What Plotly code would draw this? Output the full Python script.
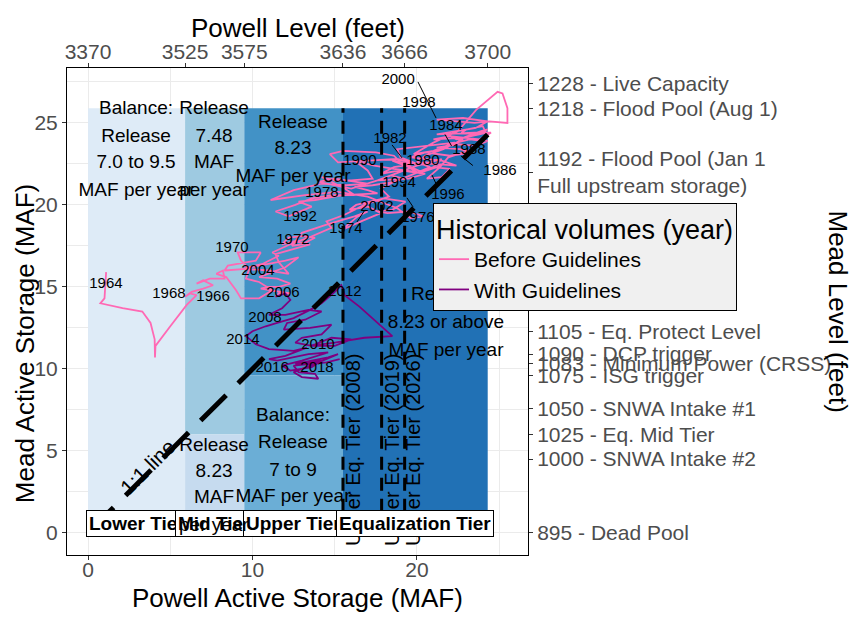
import plotly.graph_objects as go

FONT = "Liberation Sans, Arial, sans-serif"

# ---------------- data ----------------
# Historical path before the 2007 guidelines (Powell storage, Mead storage), MAF
powell_before = [1.1, 1.05, 1.0, 0.75, 2.1, 3.3, 3.8, 4.05, 4.07,
                 4.1, 5.0, 6.0, 6.6, 6.2, 5.9,
                 6.3, 7.0, 7.6, 7.0, 6.6,
                 7.4, 8.3, 8.2, 7.8,
                 8.4, 9.0, 9.3, 10.4, 11.2, 10.4,
                 9.6, 9.8, 9.3, 9.1, 10.5,
                 10.2, 8.5, 8.3, 9.6, 11.0, 12.2, 11.6,
                 11.4, 12.4, 13.5, 12.6, 11.8,
                 12.2, 13.0, 13.8, 13.0, 12.4,
                 13.0, 14.5, 16.2, 17.0, 16.4, 15.8,
                 15.5, 16.6, 17.8, 17.0, 15.9,
                 16.3, 18.0, 19.3, 18.5, 17.6,
                 18.2, 19.5, 20.4, 19.6, 18.8,
                 17.0, 15.2, 13.2, 11.1, 12.5, 14.2,
                 15.7, 17.0, 15.0, 14.0, 16.0,
                 17.6, 19.5, 20.5, 19.0, 17.8,
                 18.6, 20.5, 21.5, 20.3, 19.0,
                 18.6, 17.5, 15.5, 14.7, 15.2, 17.0, 18.8, 20.0, 19.0,
                 18.8, 20.5, 22.3, 21.0, 19.8,
                 21.0, 22.5, 23.6, 24.9, 25.2, 25.5, 25.5, 24.4, 23.5,
                 22.3, 21.2, 22.8, 24.3, 23.6,
                 22.5, 21.2, 23.5, 24.5, 23.8,
                 22.0, 21.0, 23.0, 24.3, 23.6,
                 22.5, 21.2, 22.6, 23.4, 22.0,
                 20.5, 19.6, 21.5, 22.4, 21.0,
                 19.6, 18.5, 19.5, 20.0, 18.6,
                 17.4, 16.2, 17.0, 17.3, 16.0,
                 15.0, 14.2, 15.6, 16.2, 14.8,
                 13.6, 12.6, 11.4, 12.2, 13.6, 12.8,
                 13.8, 15.5, 17.6, 17.0, 16.2,
                 17.3, 18.6, 19.2, 18.4, 17.6,
                 18.4, 20.0, 21.5, 21.0, 20.2,
                 21.0, 22.0, 21.5, 20.6, 21.4,
                 21.9, 23.4, 24.0, 23.2, 22.4,
                 22.8, 23.9, 24.3, 23.5, 22.7,
                 23.0, 24.0, 24.2, 23.2, 22.4,
                 22.0, 22.8, 21.6, 20.5,
                 20.0, 20.8, 19.6, 18.6,
                 17.8, 18.3, 16.8, 15.6,
                 14.5, 14.8, 13.4, 12.3,
                 11.2, 11.6, 10.6, 9.8,
                 9.4, 12.0, 12.8, 12.0, 11.0,
                 10.4, 11.5, 12.3, 11.6, 10.9,
                 10.5, 11.2, 12.3, 11.6, 11.4]
mead_before = [15.9, 15.0, 14.3, 14.0, 13.7, 13.5, 12.8, 11.8, 10.7,
               11.4, 12.6, 13.9, 14.5, 14.6, 14.4,
               14.7, 14.9, 15.1, 15.4, 15.2,
               15.5, 15.5, 16.0, 15.8,
               15.6, 14.8, 14.3, 14.3, 14.8, 15.3,
               15.5, 16.1, 16.6, 17.1, 17.1,
               16.6, 16.3, 16.0, 16.1, 16.0, 15.8, 16.5,
               17.0, 17.3, 17.6, 17.8, 17.6,
               18.0, 18.1, 18.0, 17.6, 17.5,
               18.3, 18.8, 19.3, 19.6, 19.3, 18.8,
               18.5, 19.0, 19.5, 19.9, 19.7,
               20.0, 20.4, 20.2, 19.7, 19.6,
               19.5, 19.6, 19.3, 19.2, 19.8,
               20.5, 20.8, 20.6, 20.3, 20.9, 21.3,
               21.2, 21.3, 21.6, 21.4, 21.0,
               21.5, 21.6, 21.9, 22.1, 21.9,
               22.3, 22.6, 22.4, 22.0, 22.6,
               23.0, 23.2, 23.3, 23.1, 22.6, 22.7, 22.8, 22.5, 22.9,
               23.4, 23.6, 23.8, 23.3, 23.1,
               23.8, 24.5, 25.8, 26.9, 26.8, 25.9, 25.0, 25.1, 25.0,
               25.1, 25.2, 25.3, 25.1, 24.7,
               24.5, 24.3, 24.4, 24.4, 24.0,
               24.2, 24.0, 24.1, 23.9, 23.6,
               23.7, 23.5, 23.4, 23.2, 23.0,
               23.2, 22.9, 22.7, 22.4, 22.5,
               22.5, 22.7, 22.3, 22.0, 22.2,
               22.4, 22.7, 22.1, 21.6, 21.5,
               21.5, 21.7, 21.0, 20.6, 20.6,
               20.4, 20.0, 19.6, 19.3, 19.9, 20.2,
               20.3, 20.6, 20.7, 20.9, 21.1,
               21.2, 21.4, 21.6, 21.8, 21.5,
               21.8, 22.4, 22.8, 22.3, 22.0,
               22.3, 22.2, 21.7, 21.6, 22.3,
               22.9, 23.4, 23.9, 24.0, 23.8,
               24.1, 24.5, 24.6, 24.3, 24.4,
               24.6, 24.8, 24.4, 24.2, 24.0,
               24.2, 24.0, 23.4, 23.0,
               22.6, 22.3, 21.8, 21.4,
               21.0, 20.5, 20.0, 19.4,
               19.0, 18.6, 18.0, 17.6,
               17.1, 16.9, 16.4, 16.2,
               16.1, 16.6, 16.8, 16.2, 15.8,
               15.6, 15.5, 15.2, 15.0, 15.0,
               14.9, 14.8, 14.6, 14.6, 14.4]

# Historical path with the 2007 guidelines
powell_with = [11.4, 12.0, 12.3, 11.8, 11.0, 12.0, 13.4, 14.2, 13.2,
               12.1, 11.9, 13.5, 14.8, 14.2, 13.0,
               12.6, 13.6, 15.0, 16.0, 14.8, 13.8,
               13.5, 15.0, 16.8, 18.5, 17.6, 16.5, 15.6, 15.4,
               15.0, 14.2, 13.5, 12.5, 11.5,
               10.8, 10.0, 9.6, 10.2,
               11.0, 12.5, 13.3, 12.0, 11.0,
               11.5, 13.4, 14.6, 13.0,
               11.8, 12.3, 13.6, 14.2, 13.0,
               12.6, 14.6, 15.2, 14.0,
               13.2, 12.5, 13.0, 14.0, 13.8,
               12.8, 12.5, 14.5, 15.3]
mead_with = [14.4, 14.6, 14.2, 13.7, 13.3, 13.3, 13.6, 13.5, 13.0,
             12.8, 12.4, 12.5, 12.7, 12.1, 11.9,
             11.6, 11.4, 11.4, 11.8, 11.9, 11.5,
             11.4, 11.6, 11.9, 12.0, 12.8, 13.8, 14.5, 15.1,
             14.7, 14.0, 13.6, 13.1, 12.8,
             12.6, 12.3, 12.0, 11.5,
             11.2, 11.1, 11.3, 10.8, 10.6,
             10.5, 10.9, 11.0, 10.5,
             10.2, 9.9, 10.1, 10.5, 10.3,
             10.3, 10.7, 10.9, 10.4,
             10.1, 9.8, 9.5, 9.4, 9.7,
             9.8, 10.2, 10.4, 10.6]

# Year labels (label position, MAF)
year_labels = ["2000", "1998", "1984", "1988", "1986", "1982", "1990", "1980",
               "1978", "1994", "1996", "2002", "1976", "1992", "1974", "1972",
               "1970", "2004", "1964", "1968", "1966", "2006", "2012", "2008",
               "2014", "2010", "2016", "2018"]
year_label_x = [18.85, 20.12, 21.76, 23.16, 25.05, 18.36, 16.53, 20.36,
                14.22, 18.91, 21.88, 17.57, 20.06, 12.89, 15.68, 12.46,
                8.75, 10.33, 1.09, 4.92, 7.6, 11.85, 15.62, 10.76,
                9.42, 13.98, 11.19, 13.92]
year_label_y = [27.62, 26.22, 24.82, 23.35, 22.07, 24.02, 22.68, 22.68,
                20.73, 21.34, 20.61, 19.88, 19.21, 19.27, 18.54, 17.87,
                17.38, 15.98, 15.18, 14.57, 14.39, 14.63, 14.70, 13.11,
                11.77, 11.46, 10.06, 10.06]
# label leader segments (from, to)
seg_x0 = [20.06, 21.7, 22.67, 18.48, 20.91, 19.39, 16.35]
seg_y0 = [27.5, 24.3, 22.99, 23.66, 21.83, 20.43, 18.96]
seg_x1 = [21.16, 22.1, 23.4, 19.09, 21.22, 19.76, 16.84]
seg_y1 = [25.3, 23.6, 22.4, 22.87, 21.16, 19.88, 19.7]

# Operating tiers (Powell storage bounds) and Mead storage bounds of zones
tier_names = ["Lower Tier", "Mid Tier", "Upper Tier", "Equalization Tier"]
tier_x0 = [0.0, 5.9, 9.5, 15.5]
tier_x1 = [5.9, 9.5, 15.5, 24.3]
tier_label_x = [2.95, 7.7, 12.5, 19.9]
zone_top = 25.9
zone_rects = [  # x0, x1, y0, y1, colour
    (0.0, 5.9, 0.0, 25.9, "#DEEBF7"),
    (5.9, 9.5, 6.0, 25.9, "#9ECAE1"),
    (5.9, 9.5, 0.0, 6.0, "#C6DBEF"),
    (9.5, 15.5, 9.6, 25.9, "#4292C6"),
    (9.5, 15.5, 0.0, 9.6, "#6BAED6"),
    (15.5, 24.3, 0.0, 25.9, "#2171B5"),
]

# Release text blocks: (x, y, text)
release_text = [
    (2.92, 25.85, "Balance:"), (2.92, 24.15, "Release"), (2.92, 22.56, "7.0 to 9.5"), (2.92, 20.85, "MAF per year"),
    (7.66, 25.85, "Release"), (7.66, 24.15, "7.48"), (7.66, 22.56, "MAF"), (7.66, 20.85, "per year"),
    (12.46, 25.0, "Release"), (12.46, 23.41, "8.23"), (12.46, 21.71, "MAF per year"),
    (7.66, 5.30, "Release"), (7.66, 3.72, "8.23"), (7.66, 2.13, "MAF"), (7.66, 0.49, "per year"),
    (12.46, 7.13, "Balance:"), (12.46, 5.49, "Release"), (12.46, 3.78, "7 to 9"), (12.46, 2.20, "MAF per year"),
    (21.76, 14.51, "Release"), (21.76, 12.80, "8.23 or above"), (21.76, 11.10, "MAF per year"),
]

# Upper equalization tier lines
eq_years = ["2008", "2019", "2026"]
eq_x = [15.5, 17.85, 19.25]
eq_text_x = [16.11, 18.48, 19.76]

# Secondary axes
powell_levels = ["3370", "3525", "3575", "3636", "3666", "3700"]
powell_level_storage = [0.0, 5.9, 9.5, 15.5, 19.25, 24.3]
mead_levels = ["1228 - Live Capacity", "1218 - Flood Pool (Aug 1)",
               "1192 - Flood Pool (Jan 1<br>Full upstream storage)",
               "1105 - Eq. Protect Level", "1090 - DCP trigger",
               "1083 - Minimum Power (CRSS)", "1075 - ISG trigger",
               "1050 - SNWA Intake #1", "1025 - Eq. Mid Tier",
               "1000 - SNWA Intake #2", "895 - Dead Pool"]
mead_level_storage = [27.4, 25.9, 22.0, 12.3, 10.9, 10.3, 9.6, 7.6, 6.0, 4.5, 0.0]

XR = [-1.28, 26.75]
YR = [-1.35, 28.35]

# ---------------- figure ----------------
fig = go.Figure()

fig.add_trace(go.Scatter(x=powell_before, y=mead_before, mode="lines",
                         line=dict(color="#FF69B4", width=1.8),
                         name="Before Guidelines", hoverinfo="skip"))
fig.add_trace(go.Scatter(x=powell_with, y=mead_with, mode="lines",
                         line=dict(color="#800080", width=1.8),
                         name="With Guidelines", hoverinfo="skip"))

# 1:1 line
fig.add_trace(go.Scatter(x=[0, tier_x1[-1]], y=[0, tier_x1[-1]], mode="lines",
                         line=dict(color="black", width=5, dash="36px,17px"),
                         showlegend=False, hoverinfo="skip"))
# equalization tier lines
for xv in eq_x:
    fig.add_trace(go.Scatter(x=[xv, xv], y=[0, zone_top], mode="lines",
                             line=dict(color="black", width=3, dash="13px,8px"),
                             showlegend=False, hoverinfo="skip"))

# release texts that sit inside the plot (drawn under the legend)
rt_main = [r for r in release_text if r[1] > 1.2]
rt_low = [r for r in release_text if r[1] <= 1.2]
fig.add_trace(go.Scatter(x=[r[0] for r in rt_main], y=[r[1] for r in rt_main],
                         text=[r[2] for r in rt_main], mode="text",
                         textposition="middle center",
                         textfont=dict(family=FONT, size=19, color="black"),
                         showlegend=False, hoverinfo="skip"))
# year labels
fig.add_trace(go.Scatter(x=year_label_x, y=year_label_y, text=year_labels, mode="text",
                         textposition="middle center",
                         textfont=dict(family=FONT, size=15, color="black"),
                         showlegend=False, hoverinfo="skip"))

# dummy trace for secondary axes
fig.add_trace(go.Scatter(x=[0], y=[0], xaxis="x2", yaxis="y2", mode="markers",
                         marker=dict(opacity=0), showlegend=False, hoverinfo="skip"))

shapes = []
for (x0, x1, y0, y1, c) in zone_rects:
    shapes.append(dict(type="rect", xref="x", yref="y", x0=x0, x1=x1, y0=y0, y1=y1,
                       fillcolor=c, line=dict(width=0), layer="between"))
for a, b, c, d in zip(seg_x0, seg_y0, seg_x1, seg_y1):
    shapes.append(dict(type="line", xref="x", yref="y", x0=a, y0=b, x1=c, y1=d,
                       line=dict(color="black", width=1), layer="above"))

ann = []
for yr, x in zip(eq_years, eq_text_x):
    ann.append(dict(x=x, y=5.06, xref="x", yref="y", text="Upper Eq. Tier (%s)" % yr,
                    showarrow=False, textangle=-90, xanchor="center", yanchor="middle",
                    font=dict(family=FONT, size=20, color="black")))
for name, x in zip(tier_names, tier_label_x):
    ann.append(dict(x=x, y=0.6, xref="x", yref="y", text="<b>%s</b>" % name,
                    showarrow=False, bgcolor="white", bordercolor="black",
                    borderwidth=1, borderpad=2, xanchor="center", yanchor="middle",
                    font=dict(family=FONT, size=19, color="black")))
for (x, y, t) in rt_low:
    ann.append(dict(x=x, y=y, xref="x", yref="y", text=t, showarrow=False,
                    xanchor="center", yanchor="middle",
                    font=dict(family=FONT, size=19, color="black")))
ann.append(dict(x=3.65, y=4.02, xref="x", yref="y", text="1:1 line", showarrow=False,
                textangle=-45, xanchor="center", yanchor="middle",
                font=dict(family=FONT, size=21, color="black")))

# axis titles
title_font = dict(family=FONT, size=26, color="black")
ann.append(dict(x=0.5, y=-0.0883, xref="paper", yref="paper", text="Powell Active Storage (MAF)",
                showarrow=False, xanchor="center", yanchor="middle", font=title_font))
ann.append(dict(x=0.5, y=1.082, xref="paper", yref="paper", text="Powell Level (feet)",
                showarrow=False, xanchor="center", yanchor="middle", font=title_font))
ann.append(dict(x=-0.0911, y=0.433, xref="paper", yref="paper", text="Mead Active Storage (MAF)",
                showarrow=False, textangle=-90, xanchor="center", yanchor="middle",
                font=title_font))
ann.append(dict(x=1.6725, y=0.5, xref="paper", yref="paper", text="Mead Level (feet)",
                showarrow=False, textangle=90, xanchor="center", yanchor="middle",
                font=title_font))

tickfont = dict(family=FONT, size=21, color="#4D4D4D")
grid = "#EBEBEB"

fig.update_layout(
    width=864, height=624,
    margin=dict(l=67, r=336, t=68, b=69, pad=0),
    paper_bgcolor="white", plot_bgcolor="white",
    font=dict(family=FONT),
    shapes=shapes, annotations=ann,
    showlegend=True,
    legend=dict(x=0.794, y=0.723, xanchor="left", yanchor="top",
                bgcolor="#F0F0F0", bordercolor="black", borderwidth=1,
                font=dict(family=FONT, size=21, color="black"),
                title=dict(text="Historical volumes (year)",
                           font=dict(family=FONT, size=27, color="black")),
                itemwidth=30, tracegroupgap=0),
    xaxis=dict(range=XR, tickmode="array", tickvals=[0, 10, 20],
               ticks="outside", ticklen=4, tickcolor="#333333", tickfont=tickfont,
               ticklabelstandoff=-8,
               showgrid=True, gridcolor=grid, gridwidth=1, zeroline=False,
               minor=dict(tickmode="array", tickvals=[5, 15, 25], showgrid=True,
                          gridcolor=grid, gridwidth=1, ticks=""),
               showline=True, linecolor="black", linewidth=1, mirror=True),
    yaxis=dict(range=YR, tickmode="array", tickvals=[0, 5, 10, 15, 20, 25],
               ticks="outside", ticklen=4, tickcolor="#333333", tickfont=tickfont,
               showgrid=True, gridcolor=grid, gridwidth=1, zeroline=False,
               minor=dict(tickmode="array", tickvals=[2.5, 7.5, 12.5, 17.5, 22.5, 27.5],
                          showgrid=True, gridcolor=grid, gridwidth=1, ticks=""),
               showline=True, linecolor="black", linewidth=1, mirror=True),
    xaxis2=dict(overlaying="x", side="top", anchor="y", range=XR, tickmode="array",
                tickvals=powell_level_storage, ticktext=powell_levels,
                ticks="outside", ticklen=4, tickcolor="#333333", tickfont=tickfont,
                ticklabelstandoff=-4,
                showgrid=False, zeroline=False, showline=False),
    yaxis2=dict(overlaying="y", side="right", anchor="x", range=YR, tickmode="array",
                tickvals=mead_level_storage, ticktext=mead_levels,
                ticks="outside", ticklen=4, tickcolor="#333333", tickfont=tickfont,
                showgrid=False, zeroline=False, showline=False),
)

fig.write_html("out.html")
